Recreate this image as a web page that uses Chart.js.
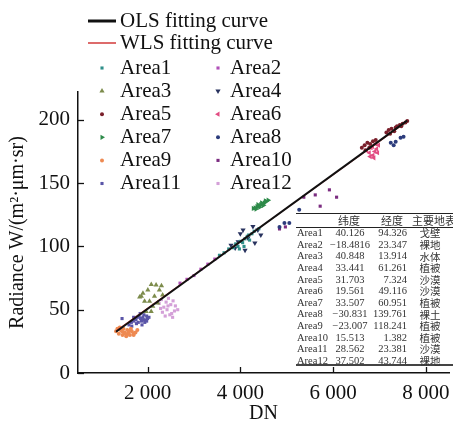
<!DOCTYPE html>
<html lang="en">
<head>
<meta charset="UTF-8">
<title>DN vs Radiance</title>
<script src="https://cdn.jsdelivr.net/npm/chart.js"></script>
<style>
  html, body { margin: 0; padding: 0; background: #fff; }
  #wrap { width: 453px; height: 421px; position: relative; }
</style>
</head>
<body>
<div id="wrap"><canvas id="calChart"></canvas></div>
<script>
// tick labels
const xTicks = [2000, 4000, 6000, 8000];
const yTicks = [0, 50, 100, 150, 200];

// fitted lines (end points)
const olsDN = [1320, 7600];
const olsRad = [32.6, 199.4];
const wlsDN = [1320, 7600];
const wlsRad = [33.2, 198.8];

// sample points per area
const dnArea1 = [3550, 3650, 3750, 3850, 3900, 3950, 4000, 4050, 4100, 4150, 4200, 4250, 4300, 4400, 3980, 4080, 4180];
const radArea1 = [93, 95, 98, 99, 102, 100, 104, 103, 106, 108, 105, 110, 112, 114, 98, 100, 109];
const dnArea2 = [2700, 2850, 3000, 3150, 3300, 3450];
const radArea2 = [71, 74, 77, 82, 86, 90];
const dnArea3 = [1900, 2006, 2184, 2255, 1866, 1936, 2042, 2149, 2112, 2218, 2325, 2078, 1970, 1830, 2300, 2080];
const radArea3 = [63, 65.6, 69.6, 65.6, 60.6, 56.7, 56.7, 60.6, 52.7, 55.3, 61.7, 48.5, 48.5, 60, 69, 70];
const dnArea4 = [4059, 4272, 4378, 4442, 4165, 3953, 4314, 4102, 3889, 3800, 4000];
const radArea4 = [113, 115.7, 113, 109, 106.7, 103.6, 102.8, 97, 98.8, 101, 110];
const dnArea5 = [6620, 6680, 6740, 6800, 6860, 6920, 6700, 6780, 7150, 7200, 7260, 7320, 7380, 7440, 7500, 7560, 7600, 7230, 7350, 7470];
const radArea5 = [178, 180, 182, 181, 183, 184, 176, 178, 190, 192, 193, 191, 195, 196, 197, 198, 199, 189, 194, 195];
const dnArea6 = [6720, 6780, 6820, 6860, 6900, 6940, 6980, 6800, 6880, 6960, 6850, 6920];
const radArea6 = [176, 174, 178, 172, 175, 177, 180, 171, 170, 174, 179, 181];
const dnArea7 = [4280, 4320, 4360, 4400, 4440, 4480, 4520, 4560, 4600, 4340, 4420, 4500, 4380, 4460, 4540];
const radArea7 = [130, 130.5, 131.5, 132, 133, 133.5, 134.5, 135.5, 136.5, 129.5, 131, 132.5, 133, 134.5, 136];
const dnArea8 = [4845, 4951, 5057, 5270, 7244, 7350, 7456, 7520, 7307];
const radArea8 = [115.4, 118.6, 118.6, 129, 182, 182.6, 185.8, 186.6, 180];
const dnArea9 = [1320, 1380, 1420, 1460, 1500, 1540, 1580, 1620, 1660, 1700, 1740, 1780, 1400, 1480, 1560, 1640, 1350, 1450, 1520, 1600, 1700];
const radArea9 = [33, 31, 34, 30, 32, 29, 31, 30, 33, 31, 32, 34, 36, 35, 34, 35, 35, 33, 31, 33, 30];
const dnArea10 = [5369, 5616, 5722, 5921, 6076, 4972, 4845];
const radArea10 = [138.9, 140.7, 131.8, 144.7, 138.9, 115.4, 113.8];
const dnArea11 = [1600, 1650, 1700, 1720, 1750, 1780, 1800, 1820, 1850, 1870, 1900, 1920, 1950, 1980, 2000, 2030, 1760, 1840, 1880, 1940, 1700, 1660, 1900, 1980, 1450];
const radArea11 = [38, 40, 41, 43, 42, 44, 40, 45, 43, 41, 44, 46, 42, 45, 43, 44, 39, 47, 38, 40, 44, 37, 42, 41, 43];
const dnArea12 = [2250, 2300, 2350, 2400, 2450, 2500, 2550, 2600, 2650, 2320, 2420, 2520, 2380, 2480, 2580, 2280, 2440, 2540];
const radArea12 = [55, 58, 52, 56, 59, 54, 57, 53, 50, 48, 50, 47, 45, 46, 49, 51, 53, 44];

// site table
const areaNames = ['Area1', 'Area2', 'Area3', 'Area4', 'Area5', 'Area6', 'Area7', 'Area8', 'Area9', 'Area10', 'Area11', 'Area12'];
const latValues = ['40.126', '\u221218.4816', '40.848', '33.441', '31.703', '19.561', '33.507', '\u221230.831', '\u221223.007', '15.513', '28.562', '37.502'];
const lonValues = ['94.326', '23.347', '13.914', '61.261', '7.324', '49.116', '60.951', '139.761', '118.241', '1.382', '23.381', '43.744'];
const surfaceTypes = ['戈壁', '裸地', '水体', '植被', '沙漠', '沙漠', '植被', '裸土', '植被', '植被', '沙漠', '裸地'];
const tableHeader = ['纬度', '经度', '主要地表'];

const areaDN = [dnArea1, dnArea2, dnArea3, dnArea4, dnArea5, dnArea6, dnArea7, dnArea8, dnArea9, dnArea10, dnArea11, dnArea12];
const areaRad = [radArea1, radArea2, radArea3, radArea4, radArea5, radArea6, radArea7, radArea8, radArea9, radArea10, radArea11, radArea12];

// marker look for each area
const areaStyles = [
  { color: '#2f8f8a', shape: 'rect', rot: 0 },
  { color: '#b050b8', shape: 'rect', rot: 0 },
  { color: '#7d8c4c', shape: 'triangle', rot: 0 },
  { color: '#28325e', shape: 'triangle', rot: 180 },
  { color: '#7a1f2b', shape: 'circle', rot: 0 },
  { color: '#e24c82', shape: 'triangle', rot: -90 },
  { color: '#2e8b4a', shape: 'triangle', rot: 90 },
  { color: '#2c3c7c', shape: 'circle', rot: 0 },
  { color: '#ee8a52', shape: 'circle', rot: 0 },
  { color: '#7b2c80', shape: 'rect', rot: 0 },
  { color: '#5a55a8', shape: 'rect', rot: 0 },
  { color: '#d4a0d8', shape: 'rect', rot: 0 }
];

const SERIF = '"Liberation Serif", "DejaVu Serif", serif';
const CJK = '"Noto Sans CJK SC", sans-serif';

function toPoints(xs, ys) {
  return xs.map((x, i) => ({ x, y: ys[i] }));
}

function fmtThousands(v) {
  return String(v).replace(/\B(?=(\d{3})+(?!\d))/g, ' ');
}

function markerRadius(shape) {
  if (shape === 'triangle') return 3;
  return shape === 'circle' ? 2 : 2.2;
}

const datasets = [
  {
    label: 'OLS fitting curve', type: 'line', data: toPoints(olsDN, olsRad),
    borderColor: '#111', borderWidth: 2, pointRadius: 0, order: 0
  },
  {
    label: 'WLS fitting curve', type: 'line', data: toPoints(wlsDN, wlsRad),
    borderColor: '#d23a3a', borderWidth: 1.2, pointRadius: 0, order: 0
  }
];
areaNames.forEach((name, i) => {
  const s = areaStyles[i];
  datasets.push({
    label: name, type: 'scatter', data: toPoints(areaDN[i], areaRad[i]),
    backgroundColor: s.color, borderColor: s.color, borderWidth: 0,
    pointStyle: s.shape, rotation: s.rot,
    pointRadius: markerRadius(s.shape), order: 1
  });
});

// inward tick marks, legend block and the site table
const extras = {
  id: 'extras',
  afterDraw(chart) {
    const ctx = chart.ctx;
    const xs = chart.scales.x, ys = chart.scales.y;
    const area = chart.chartArea;
    ctx.save();
    ctx.strokeStyle = '#111';
    ctx.lineWidth = 1.3;
    xTicks.forEach(v => {
      const px = Math.round(xs.getPixelForValue(v)) + 0.5;
      ctx.beginPath(); ctx.moveTo(px, area.bottom); ctx.lineTo(px, area.bottom - 6); ctx.stroke();
    });
    yTicks.forEach(v => {
      const py = Math.round(ys.getPixelForValue(v)) + 0.5;
      ctx.beginPath(); ctx.moveTo(area.left, py); ctx.lineTo(area.left + 6, py); ctx.stroke();
    });

    // legend
    ctx.fillStyle = '#111';
    ctx.font = '21px ' + SERIF;
    ctx.textBaseline = 'middle';
    ctx.textAlign = 'left';
    ctx.lineWidth = 3; ctx.strokeStyle = '#111';
    ctx.beginPath(); ctx.moveTo(88, 21); ctx.lineTo(116, 21); ctx.stroke();
    ctx.fillText('OLS fitting curve', 120, 21);
    ctx.lineWidth = 1.5; ctx.strokeStyle = '#d23a3a';
    ctx.beginPath(); ctx.moveTo(88, 43); ctx.lineTo(116, 43); ctx.stroke();
    ctx.fillText('WLS fitting curve', 120, 43);
    areaNames.forEach((name, i) => {
      const row = Math.floor(i / 2), col = i % 2;
      const y = 68 + row * 23.1;
      const mx = col ? 218 : 102, tx = col ? 230 : 120;
      const s = areaStyles[i];
      ctx.fillStyle = s.color; ctx.strokeStyle = s.color;
      Chart.helpers.drawPoint(ctx, { pointStyle: s.shape, rotation: s.rot, radius: markerRadius(s.shape), borderWidth: 0 }, mx, y);
      ctx.fillStyle = '#111';
      ctx.fillText(name, tx, y);
    });

    // table
    const left = 296, right = 453;
    ctx.strokeStyle = '#222';
    ctx.lineWidth = 1;
    ctx.beginPath(); ctx.moveTo(left, 213.5); ctx.lineTo(right, 213.5); ctx.stroke();
    ctx.beginPath(); ctx.moveTo(left, 227.5); ctx.lineTo(right, 227.5); ctx.stroke();
    ctx.lineWidth = 2; ctx.strokeStyle = '#444';
    ctx.beginPath(); ctx.moveTo(left, 365); ctx.lineTo(right, 365); ctx.stroke();

    ctx.fillStyle = '#333';
    ctx.font = '11px ' + CJK;
    ctx.textAlign = 'center';
    ctx.fillText(tableHeader[0], 349, 220.5);
    ctx.fillText(tableHeader[1], 392, 220.5);
    ctx.textAlign = 'left';
    ctx.fillText(tableHeader[2], 412, 220.5);
    areaNames.forEach((name, i) => {
      const y = 233.5 + i * 11.6;
      ctx.font = '10.5px ' + SERIF;
      ctx.textAlign = 'left';
      ctx.fillText(name, 297, y);
      ctx.textAlign = 'center';
      ctx.fillText(latValues[i], 350, y);
      ctx.textAlign = 'right';
      ctx.fillText(lonValues[i], 407, y);
      ctx.font = '10.5px ' + CJK;
      ctx.textAlign = 'center';
      ctx.fillText(surfaceTypes[i], 430, y);
    });
    ctx.restore();
  }
};

new Chart(document.getElementById('calChart'), {
  type: 'scatter',
  data: { datasets },
  plugins: [extras],
  options: {
    responsive: true,
    maintainAspectRatio: false,
    animation: false,
    layout: { padding: { top: 92, right: 0, left: 0, bottom: 0 } },
    plugins: { legend: { display: false }, tooltip: { enabled: false } },
    scales: {
      x: {
        type: 'linear', min: 500, max: 8500,
        afterBuildTicks: s => { s.ticks = xTicks.map(v => ({ value: v })); },
        afterFit: s => { s.height = 48; s.paddingLeft = 0; s.paddingRight = 0; },
        grid: { display: false, drawTicks: false },
        border: { display: true, color: '#111', width: 1.5 },
        ticks: { color: '#111', padding: 8, font: { family: SERIF, size: 21 }, callback: v => fmtThousands(v) },
        title: { display: true, text: 'DN', color: '#111', font: { family: SERIF, size: 20, lineHeight: 1 }, padding: { top: 0, bottom: -3 } }
      },
      y: {
        type: 'linear', min: 0, max: 222,
        afterBuildTicks: s => { s.ticks = yTicks.map(v => ({ value: v })); },
        afterFit: s => { s.width = 78; s.paddingTop = 0; s.paddingBottom = 0; },
        grid: { display: false, drawTicks: false },
        border: { display: true, color: '#111', width: 1.5 },
        ticks: { color: '#111', padding: 8, font: { family: SERIF, size: 21 } },
        title: { display: true, text: 'Radiance W/(m\u00b2\u00b7\u03bcm\u00b7sr)', color: '#111', font: { family: SERIF, size: 20, lineHeight: 1.2 }, padding: { top: 6, bottom: 0 } }
      }
    }
  }
});
</script>
</body>
</html>
